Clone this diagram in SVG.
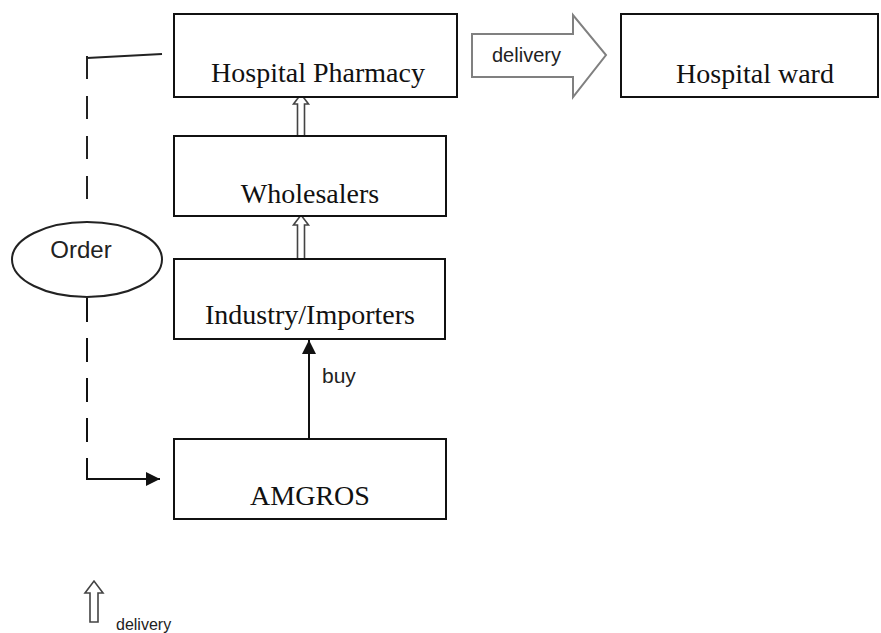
<svg xmlns="http://www.w3.org/2000/svg" width="881" height="633" viewBox="0 0 881 633">
<style>
.box{fill:#fff;stroke:#111;stroke-width:2}
.lbl{font-family:"Liberation Serif","Times New Roman",serif;font-size:28px;fill:#111;text-anchor:middle}
.sans{font-family:"Liberation Sans",Arial,sans-serif;fill:#222}
.hollow{fill:#fff;stroke:#444;stroke-width:1.6;stroke-linejoin:miter}
.line{fill:none;stroke:#111;stroke-width:2}
</style>
<defs>
<marker id="ah" viewBox="0 0 14 14" refX="14" refY="7" markerWidth="14" markerHeight="14" markerUnits="userSpaceOnUse" orient="auto">
<path d="M0,0 L14,7 L0,14 Z" fill="#111"/>
</marker>
</defs>
<rect width="881" height="633" fill="#fff"/>
<g id="connectors">
<polygon class="hollow" points="297.5,136 297.5,104 293.5,104 301,94 308.5,104 304.5,104 304.5,136"/>
<polygon class="hollow" points="297.5,259 297.5,225 293.5,225 301,215 308.5,225 304.5,225 304.5,259"/>
<line class="line" x1="309" y1="439" x2="309" y2="340" marker-end="url(#ah)"/>
<text class="sans" x="322" y="383" font-size="21">buy</text>
<polygon points="472,34 573,34 573,15 606,55 573,97 573,77 472,77" fill="#fff" stroke="#808080" stroke-width="2"/>
<text class="sans" x="492" y="62" font-size="20">delivery</text>
<line x1="87" y1="58" x2="162" y2="54" stroke="#222" stroke-width="2"/>
<line x1="87" y1="56" x2="87" y2="202" stroke="#222" stroke-width="2" stroke-dasharray="23,17"/>
<path d="M87,298 V479 H160" class="line" stroke-dasharray="24,16,24,16,24,16,24,16,200" marker-end="url(#ah)"/>
</g>
<g id="hospital-pharmacy">
<rect class="box" x="174" y="14" width="283" height="83"/>
<text class="lbl" x="318" y="82">Hospital Pharmacy</text>
</g>
<g id="hospital-ward">
<rect class="box" x="621" y="14" width="257" height="83"/>
<text class="lbl" x="755" y="83">Hospital ward</text>
</g>
<g id="wholesalers">
<rect class="box" x="174" y="136" width="272" height="80"/>
<text class="lbl" x="310" y="203">Wholesalers</text>
</g>
<g id="industry">
<rect class="box" x="174" y="259" width="271" height="80"/>
<text class="lbl" x="310" y="324">Industry/Importers</text>
</g>
<g id="amgros">
<rect class="box" x="174" y="439" width="272" height="80"/>
<text class="lbl" x="310" y="505">AMGROS</text>
</g>
<g id="order">
<ellipse cx="87" cy="259.5" rx="75" ry="37.5" fill="#fff" stroke="#222" stroke-width="2"/>
<text class="sans" x="81" y="258" font-size="24" text-anchor="middle">Order</text>
</g>
<g id="legend">
<polygon class="hollow" points="90,622 90,593 85,593 94,581 103,593 98,593 98,622"/>
<text class="sans" x="116" y="630" font-size="16">delivery</text>
</g>
</svg>
